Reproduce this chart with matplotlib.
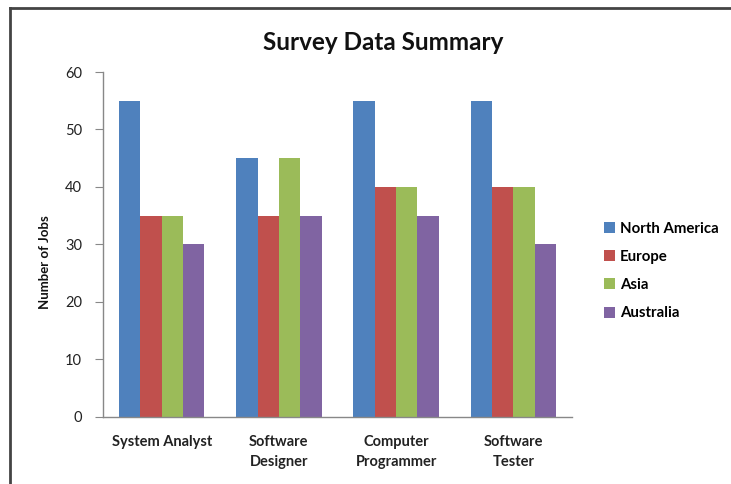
import matplotlib
matplotlib.use("Agg")
import matplotlib.pyplot as plt
import numpy as np
from matplotlib.lines import Line2D

categories = ["System Analyst", "Software\nDesigner", "Computer\nProgrammer", "Software\nTester"]
series_names = ["North America", "Europe", "Asia", "Australia"]
north_america = [55, 45, 55, 55]
europe = [35, 35, 40, 40]
asia = [35, 45, 40, 40]
australia = [30, 35, 35, 30]
colors = ["#4F81BD", "#C0504D", "#9BBB59", "#8064A2"]

plt.rcParams["font.family"] = ["Lato", "DejaVu Sans"]

fig = plt.figure(figsize=(7.31, 4.84), dpi=100)
ax = fig.add_axes([103 / 731, 1 - 416.5 / 484, 469 / 731, 344.5 / 484])

# chart frame (cut off at the right and bottom like the source screenshot)
fig.add_artist(Line2D([10 / 731, 10 / 731], [0, 1 - 8 / 484], transform=fig.transFigure,
                      color="#444444", lw=2.0))
fig.add_artist(Line2D([10 / 731, 1], [1 - 8 / 484, 1 - 8 / 484], transform=fig.transFigure,
                      color="#444444", lw=2.0))

x = np.arange(len(categories))
width = 1 / 5.5
values = [north_america, europe, asia, australia]
for i, (name, vals, c) in enumerate(zip(series_names, values, colors)):
    ax.bar(x + (i - 1.5) * width, vals, width, color=c, label=name)

ax.set_xlim(-0.5, len(categories) - 0.5)
ax.set_ylim(0, 60)
ax.set_yticks(range(0, 61, 10))
ax.set_xticks(x)
ax.set_xticklabels(categories, fontsize=10.5, fontweight="bold", color="#222222", linespacing=1.55)
ax.tick_params(axis="x", length=0, pad=13)
ax.tick_params(axis="y", length=6, width=0.8, color="#888888", labelsize=10.5, labelcolor="#222222", pad=9)
for s in ["top", "right"]:
    ax.spines[s].set_visible(False)
for s in ["left", "bottom"]:
    ax.spines[s].set_color("#888888")
    ax.spines[s].set_linewidth(1.0)

fig.text(45 / 731, 1 - 262 / 484, "Number of Jobs", rotation=90, ha="center", va="center",
         fontsize=9.5, fontweight="bold", color="#111111")
fig.text(383 / 731, 1 - 43 / 484, "Survey Data Summary", ha="center", va="center",
         fontsize=17.5, fontweight="bold", color="#111111")

leg = fig.legend(loc="center left", bbox_to_anchor=(590 / 731, 1 - 271 / 484), frameon=False,
                 prop={"size": 10.8, "weight": "bold"}, handlelength=0.75, handleheight=0.75,
                 handletextpad=0.35, labelspacing=0.95)

fig.savefig("out.png", dpi=100)
